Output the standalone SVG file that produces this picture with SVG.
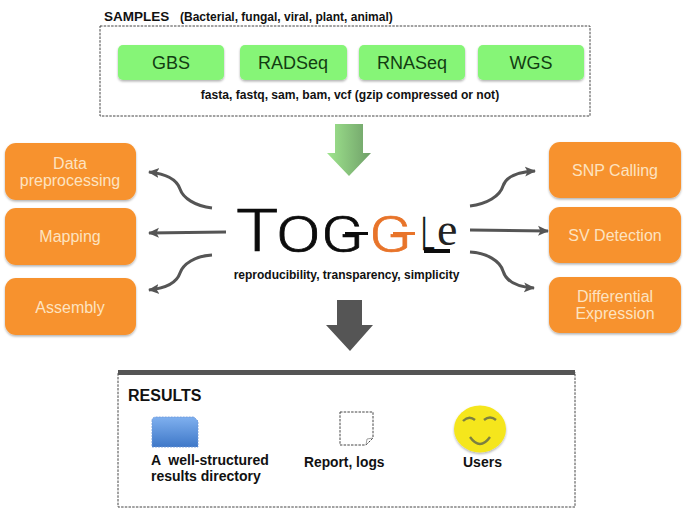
<svg xmlns="http://www.w3.org/2000/svg" width="691" height="519" viewBox="0 0 691 519">
<style>
text{font-family:"Liberation Sans",Arial,sans-serif}
.b{font-weight:bold;fill:#111}
.o{fill:#f7922e;filter:url(#sh)}
.ot{fill:#fde3c0;font-size:16px;text-anchor:middle}
.g{fill:#86f577;filter:url(#sh)}
.gt{fill:#123d12;font-size:18px;text-anchor:middle}
.dash{fill:#fff;stroke:#444;stroke-width:1;stroke-dasharray:2.500 1.200}
.c{fill:none;stroke:#555;stroke-width:3;marker-end:url(#ah)}
.logo{font-family:"Roboto","Liberation Sans",sans-serif;font-weight:300;fill:#0c0c0c;stroke:#0c0c0c;stroke-width:.7}
.logo2{font-family:"Roboto","Liberation Sans",sans-serif;font-weight:300;fill:#e8742a;stroke:#e8742a;stroke-width:.7}
</style>
<defs>
<marker id="ah" markerUnits="userSpaceOnUse" markerWidth="13" markerHeight="13" refX="10" refY="6" orient="auto"><path d="M0 1L11 6L0 11L2.500 6Z" fill="#555"/></marker>
<filter id="sh" x="-10%" y="-10%" width="120%" height="125%"><feDropShadow dx="0" dy="1.500" stdDeviation="1" flood-color="#000" flood-opacity=".3"/></filter>
<linearGradient id="ga" x1="0" y1="0" x2="1" y2="0"><stop offset="0" stop-color="#9fe58e"/><stop offset="1" stop-color="#6f9f68"/></linearGradient>
<linearGradient id="bl" x1="0" y1="0" x2="0" y2="1"><stop offset="0" stop-color="#7fb0ef"/><stop offset="1" stop-color="#3f78c8"/></linearGradient>
</defs>
<rect width="691" height="519" fill="#fff"/>

<g id="samples">
<text class="b" x="104" y="21" font-size="13.500">SAMPLES</text>
<text class="b" x="180" y="21" font-size="12">(Bacterial, fungal, viral, plant, animal)</text>
<rect class="dash" x="100" y="26" width="490" height="90"/>
<text class="b" x="350" y="99" font-size="12.100" text-anchor="middle">fasta, fastq, sam, bam, vcf (gzip compressed or not)</text>
</g>
<g id="gbs"><rect class="g" x="118" y="45" width="106" height="35" rx="5"/><text class="gt" x="171" y="69">GBS</text></g>
<g id="radseq"><rect class="g" x="240" y="45" width="107" height="35" rx="5"/><text class="gt" x="293" y="69">RADSeq</text></g>
<g id="rnaseq"><rect class="g" x="359" y="45" width="106" height="35" rx="5"/><text class="gt" x="412" y="69">RNASeq</text></g>
<g id="wgs"><rect class="g" x="478" y="45" width="106" height="35" rx="5"/><text class="gt" x="531" y="69">WGS</text></g>

<g id="arrow-in"><path d="M335 124H363V153H371L349 176L327 153H335Z" fill="url(#ga)"/></g>

<g id="data-preprocessing"><rect class="o" x="5" y="143" width="131" height="57" rx="11"/><text class="ot" x="70" y="169">Data</text><text class="ot" x="70" y="186">preprocessing</text></g>
<g id="mapping"><rect class="o" x="5" y="208" width="131" height="57" rx="11"/><text class="ot" x="70" y="242">Mapping</text></g>
<g id="assembly"><rect class="o" x="5" y="278" width="131" height="57" rx="11"/><text class="ot" x="70" y="313">Assembly</text></g>
<g id="snp-calling"><rect class="o" x="549" y="142" width="132" height="56" rx="11"/><text class="ot" x="615" y="176">SNP Calling</text></g>
<g id="sv-detection"><rect class="o" x="549" y="207" width="132" height="56" rx="11"/><text class="ot" x="615" y="241">SV Detection</text></g>
<g id="differential-expression"><rect class="o" x="549" y="277" width="132" height="56" rx="11"/><text class="ot" x="615" y="302">Differential</text><text class="ot" x="615" y="319">Expression</text></g>

<g id="connectors">
<path class="c" d="M212 208C195 206 183 198 180 189C177 180 168 174 149 172"/>
<path class="c" d="M226 232L149 233"/>
<path class="c" d="M212 255C195 256 183 264 180 273C177 282 168 288 149 290"/>
<path class="c" d="M470 206C487 204 500 196 503 186C506 177 516 172 535 171"/>
<path class="c" d="M470 230L548 231"/>
<path class="c" d="M470 252C487 253 500 261 503 271C506 281 516 287 534 288"/>
</g>

<g id="toggle">
<text class="logo" transform="translate(236 251) scale(1.180 1)" font-size="60">T</text>
<text class="logo" transform="translate(276 252) scale(1.320 1)" font-size="50">O</text>
<text class="logo" transform="translate(321 252) scale(1.250 1)" font-size="50">G</text>
<line x1="345" y1="233.500" x2="368" y2="233.500" stroke="#0c0c0c" stroke-width="3"/>
<text class="logo2" transform="translate(369 252) scale(1.250 1)" font-size="50">G</text>
<line x1="393" y1="233.500" x2="415" y2="233.500" stroke="#e8742a" stroke-width="3"/>
<text class="logo" transform="translate(421 250) scale(.55 1)" font-size="47">L</text>
<line x1="424" y1="251" x2="450" y2="251" stroke="#0c0c0c" stroke-width="4"/>
<text x="437" y="245" font-size="46" style="font-family:'Liberation Serif',serif;fill:#222">e</text>
<text class="b" x="346.500" y="279" font-size="12" text-anchor="middle">reproducibility, transparency, simplicity</text>
</g>

<g id="arrow-out"><path d="M337 300H362V325H373L350 351L326 325H337Z" fill="#555"/></g>

<g id="results">
<rect class="dash" x="118" y="372" width="457" height="135"/>
<rect x="118" y="370" width="457" height="5" fill="#555"/>
<text class="b" x="128" y="401" font-size="16">RESULTS</text>
</g>
<g id="directory">
<path d="M152 421Q152 417 156 417H194L198 421V447H152Z" fill="url(#bl)" stroke="#6f98d8" stroke-width=".8" stroke-dasharray="2 1"/>
<text class="b" x="151" y="465" font-size="14" xml:space="preserve">A  well-structured</text>
<text class="b" x="151" y="481" font-size="14">results directory</text>
</g>
<g id="report">
<path d="M340 412H373V438L366 445H340Z" class="dash"/>
<path d="M366 445L367 439L373 438" fill="none" stroke="#888" stroke-width=".8"/>
<text class="b" x="304" y="467" font-size="13.800">Report, logs</text>
</g>
<g id="users">
<ellipse cx="480" cy="429" rx="26" ry="23.500" fill="#f5e61e" filter="url(#sh)"/>
<path d="M463 421Q469 415 475 420M484 420Q490 415 496 420M470 437Q480 451 490 437" fill="none" stroke="#7d8040" stroke-width="2.400"/>
<text class="b" x="463" y="467" font-size="14">Users</text>
</g>
</svg>
